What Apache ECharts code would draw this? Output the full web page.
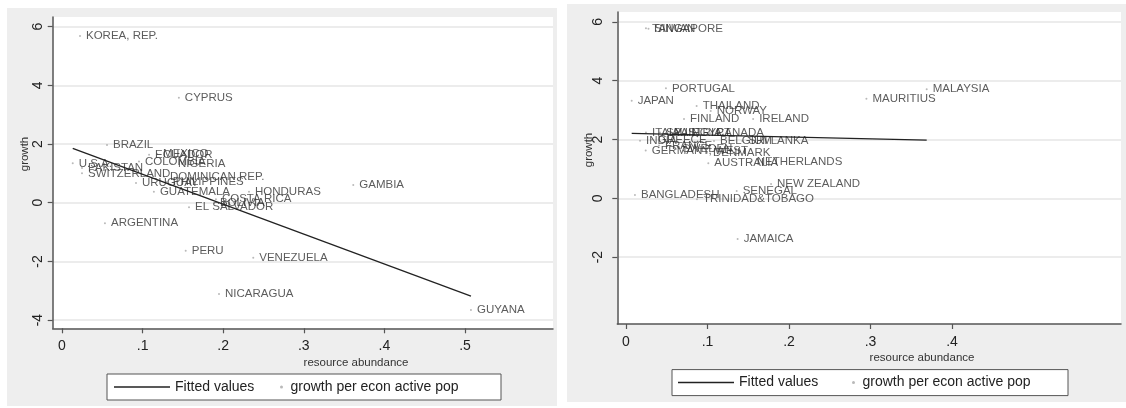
<!DOCTYPE html>
<html>
<head>
<meta charset="utf-8">
<script src="https://cdn.jsdelivr.net/npm/echarts@6/dist/echarts.min.js"></script>
<style>
html,body{margin:0;padding:0;background:#ffffff;}
#chart{width:1126px;height:408px;}
</style>
</head>
<body>
<div id="chart"></div>
<script>
// ---- Left panel data ----
const leftNames = ['KOREA, REP.','CYPRUS','BRAZIL','U.S.A.','PAKISTAN','SWITZERLAND','ECUADOR','MEXICO','COLOMBIA','NIGERIA','DOMINICAN REP.','URUGUAY','PHILIPPINES','GUATEMALA','HONDURAS','COSTA RICA','BOLIVIA','EL SALVADOR','GAMBIA','ARGENTINA','PERU','VENEZUELA','NICARAGUA','GUYANA'];
const leftX = [0.0223,0.145,0.0558,0.0133,0.0248,0.0248,0.108,0.118,0.0955,0.1365,0.1266,0.0918,0.130,0.114,0.232,0.191,0.1886,0.1576,0.3614,0.0533,0.1535,0.2373,0.1948,0.5074];
const leftY = [5.68,3.58,1.97,1.34,1.18,1.00,1.63,1.66,1.40,1.32,0.886,0.67,0.705,0.375,0.375,0.116,-0.01,-0.157,0.603,-0.70,-1.635,-1.874,-3.11,-3.656];
const leftFitX = [0.0133, 0.5074];
const leftFitY = [1.853, -3.18];

// ---- Right panel data ----
const rightNames = ['TAIWAN','SINGAPORE','PORTUGAL','JAPAN','THAILAND','NORWAY','FINLAND','IRELAND','MALAYSIA','MAURITIUS','ITALY','SPAIN','AUSTRIA','EGYPT','CANADA','INDIA','GREECE','BELGIUM','SRI LANKA','FRANCE','GERMANY, WEST','SWEDEN','DENMARK','AUSTRALIA','NETHERLANDS','NEW ZEALAND','SENEGAL','BANGLADESH','TRINIDAD&TOBAGO','JAMAICA'];
const rightX = [0.0245,0.0276,0.049,0.007,0.0867,0.104,0.0712,0.156,0.369,0.295,0.0245,0.0417,0.049,0.0736,0.103,0.0172,0.0319,0.108,0.1427,0.0405,0.0242,0.0613,0.0994,0.101,0.153,0.178,0.1358,0.011,0.0871,0.137];
const rightY = [5.78,5.77,3.74,3.32,3.14,2.97,2.70,2.70,3.71,3.39,2.24,2.24,2.22,2.23,2.21,1.96,2.00,1.95,1.95,1.80,1.63,1.68,1.55,1.19,1.245,0.486,0.248,0.112,-0.034,-1.384];
const rightFitX = [0.007, 0.369];
const rightFitY = [2.21, 1.98];

// ---- Tick labels ----
const xTicksLeft = [0, 0.1, 0.2, 0.3, 0.4, 0.5];
const xTicksRight = [0, 0.1, 0.2, 0.3, 0.4];
const yTicksLeft = [-4, -2, 0, 2, 4, 6];
const yTicksRight = [-2, 0, 2, 4, 6];

const xTitle = 'resource abundance';
const yTitle = 'growth';
const fitName = 'Fitted values';
const scatName = 'growth per econ active pop';

const FONT = "'Liberation Sans', Arial, sans-serif";
const xFmt = v => (Math.abs(v) < 1e-9 ? '0' : '.' + Math.round(v * 10));
const yFmt = v => String(Math.round(v));

function pts(xs, ys, names) {
  return xs.map((x, i) => names ? { name: names[i], value: [x, ys[i]] } : [x, ys[i]]);
}

function xAxisCfg(idx, min, max, ticks) {
  return {
    type: 'value', gridIndex: idx, min: min, max: max,
    axisLine: { show: true, onZero: false, lineStyle: { color: '#555', width: 1.5 } },
    axisTick: { show: true, length: 5, customValues: ticks, lineStyle: { color: '#555', width: 1.2 } },
    axisLabel: { customValues: ticks, formatter: xFmt, margin: 11, color: '#222', fontFamily: FONT, fontSize: 14 },
    splitLine: { show: false }
  };
}
function yAxisCfg(idx, min, max, ticks, margin) {
  return {
    type: 'value', gridIndex: idx, min: min, max: max,
    axisLine: { show: true, onZero: false, lineStyle: { color: '#555', width: 1.5 } },
    axisTick: { show: true, length: 5, customValues: ticks, lineStyle: { color: '#555', width: 1.2 } },
    axisLabel: { customValues: ticks, formatter: yFmt, rotate: 90, margin: margin, color: '#222', fontFamily: FONT, fontSize: 14 },
    splitLine: { show: true, lineStyle: { color: '#e6e6e6', width: 1.5 } }
  };
}
function scatterSeries(idx, xs, ys, names) {
  return {
    name: scatName, type: 'scatter', xAxisIndex: idx, yAxisIndex: idx,
    symbol: 'circle', symbolSize: 2,
    itemStyle: { color: '#a8a8a8' },
    label: { show: true, position: 'right', distance: 5, formatter: p => p.name,
      color: '#333', fontFamily: FONT, fontSize: 11.5 },
    emphasis: { disabled: true },
    data: pts(xs, ys, names), z: 3
  };
}
function lineSeries(idx, xs, ys) {
  return {
    name: fitName, type: 'line', xAxisIndex: idx, yAxisIndex: idx,
    symbol: 'none', showSymbol: false,
    itemStyle: { color: '#222' },
    lineStyle: { color: '#222', width: 1.3 },
    emphasis: { disabled: true },
    data: pts(xs, ys), z: 4
  };
}
function legendPair(lineLeft, dotLeft, top) {
  const ts = { color: '#222', fontFamily: FONT, fontSize: 14, lineHeight: 16 };
  return [
    { data: [{ name: fitName, icon: 'rect', itemStyle: { color: '#222' } }], left: lineLeft, top: top, padding: 0, itemWidth: 56, itemHeight: 1.5, textStyle: ts, selectedMode: false },
    { data: [{ name: scatName, icon: 'circle', itemStyle: { color: '#a8a8a8' } }], left: dotLeft, top: top, padding: 0, itemWidth: 8, itemHeight: 3, textStyle: ts, selectedMode: false }
  ];
}

const chart = echarts.init(document.getElementById('chart'), null, { renderer: 'canvas' });
chart.setOption({
  animation: false,
  backgroundColor: '#ffffff',
  grid: [
    { left: 52.7, top: 17, width: 500.3, height: 311.3, show: true, backgroundColor: '#ffffff', borderWidth: 0 },
    { left: 617.3, top: 12, width: 503.7, height: 312, show: true, backgroundColor: '#ffffff', borderWidth: 0 }
  ],
  xAxis: [
    xAxisCfg(0, -0.01154, 0.6092, xTicksLeft),
    xAxisCfg(1, -0.01067, 0.6074, xTicksRight)
  ],
  yAxis: [
    yAxisCfg(0, -4.279, 6.327, yTicksLeft, 8),
    yAxisCfg(1, -4.276, 6.337, yTicksRight, 12)
  ],
  legend: [].concat(legendPair(114, 280, 379), legendPair(678, 852, 374.6)),
  series: [
    scatterSeries(0, leftX, leftY, leftNames),
    lineSeries(0, leftFitX, leftFitY),
    scatterSeries(1, rightX, rightY, rightNames),
    lineSeries(1, rightFitX, rightFitY)
  ],
  graphic: [
    { type: 'rect', z: -100, shape: { x: 7, y: 8, width: 550, height: 398 }, style: { fill: '#eeeeee' }, silent: true },
    { type: 'rect', z: -100, shape: { x: 567, y: 4, width: 559, height: 398 }, style: { fill: '#eeeeee' }, silent: true },
    { type: 'rect', z: 1, shape: { x: 107, y: 374, width: 394, height: 26 }, style: { fill: '#ffffff', stroke: '#555', lineWidth: 1 }, silent: true },
    { type: 'rect', z: 1, shape: { x: 672, y: 369.6, width: 396, height: 26 }, style: { fill: '#ffffff', stroke: '#555', lineWidth: 1 }, silent: true },
    { type: 'text', z: 5, x: 356, y: 362.7, style: { text: xTitle, fill: '#333', font: "11.5px 'Liberation Sans', Arial, sans-serif", align: 'center', verticalAlign: 'middle' }, silent: true },
    { type: 'text', z: 5, x: 922, y: 358.3, style: { text: xTitle, fill: '#333', font: "11.5px 'Liberation Sans', Arial, sans-serif", align: 'center', verticalAlign: 'middle' }, silent: true },
    { type: 'text', z: 5, x: 25, y: 154, rotation: Math.PI / 2, style: { text: yTitle, fill: '#333', font: "11.5px 'Liberation Sans', Arial, sans-serif", align: 'center', verticalAlign: 'middle' }, silent: true },
    { type: 'text', z: 5, x: 589, y: 150, rotation: Math.PI / 2, style: { text: yTitle, fill: '#333', font: "11.5px 'Liberation Sans', Arial, sans-serif", align: 'center', verticalAlign: 'middle' }, silent: true }
  ]
});
</script>
</body>
</html>
